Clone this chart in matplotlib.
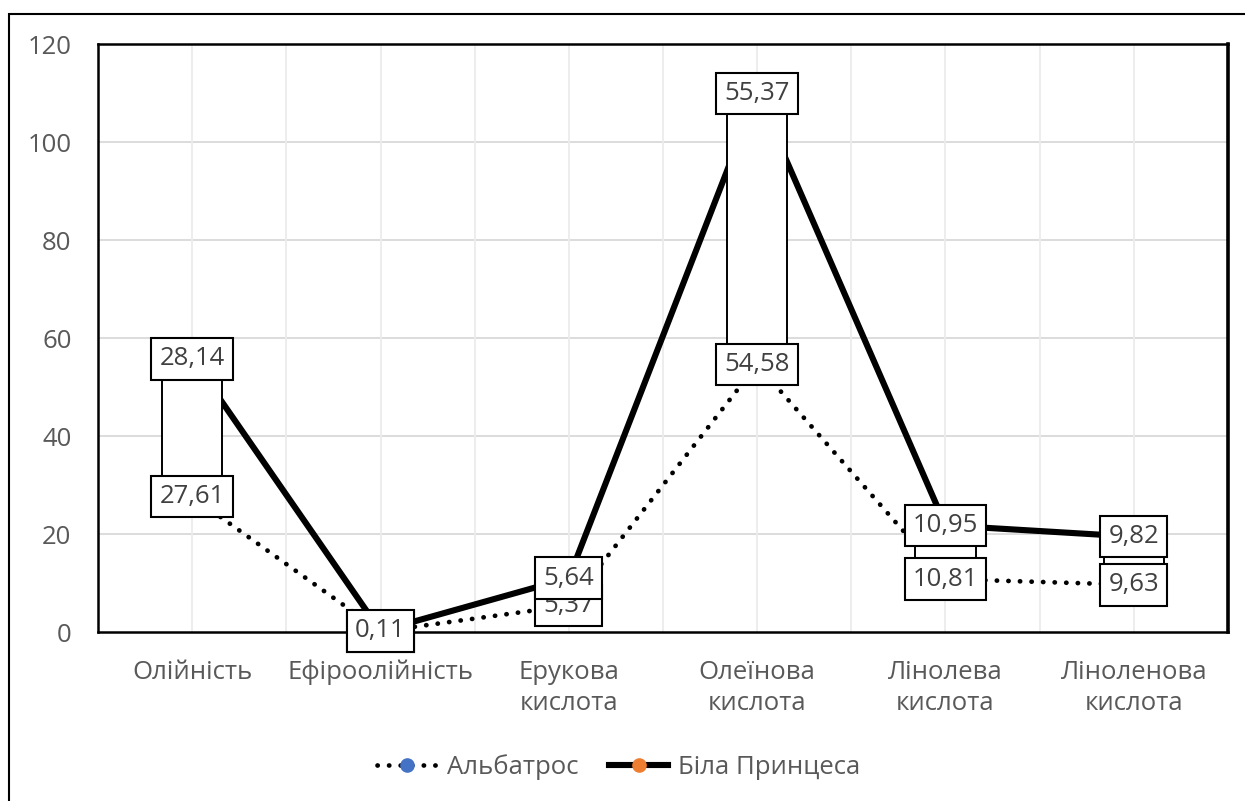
import matplotlib
matplotlib.use("Agg")
import matplotlib.pyplot as plt
from matplotlib.lines import Line2D
from matplotlib.patches import Rectangle
import numpy as np

plt.rcParams['font.family'] = ['Open Sans', 'DejaVu Sans']

# категорії та значення
categories = ["Олійність", "Ефіроолійність", "Ерукова\nкислота",
              "Олеїнова\nкислота", "Лінолева\nкислота", "Ліноленова\nкислота"]
albatros = [27.61, 0.11, 5.37, 54.58, 10.81, 9.63]
bila = [28.14, 0.11, 5.64, 55.37, 10.95, 9.82]
series_names = ["Альбатрос", "Біла Принцеса"]

FS = 18.5

def fmt(v):
    return f"{v:.2f}".replace(".", ",")

x = np.arange(len(categories))
lower = np.array(albatros)
upper = lower + np.array(bila)  # накопичена лінія

fig = plt.figure(figsize=(12.45, 8.01), dpi=100)
ax = fig.add_axes([98 / 1245, 1 - 632 / 801, 1130 / 1245, 588 / 801])

# рамка всієї діаграми
fig.patches.append(Rectangle((9 / 1245, -0.1), 1.2, 0.1 + (801 - 14) / 801,
                             transform=fig.transFigure, fill=False,
                             edgecolor="black", lw=1.5, zorder=0))

ax.set_xlim(-0.5, len(categories) - 0.5)
ax.set_ylim(0, 120)
ax.set_yticks(np.arange(0, 121, 20))
ax.set_xticks(x)
ax.set_xticklabels(categories, fontsize=FS, color="#595959", linespacing=1.35)
ax.tick_params(axis="y", labelsize=FS, labelcolor="#595959", length=0, pad=19)
ax.tick_params(axis="x", length=0, pad=20)

# сітка
for yv in np.arange(20, 120, 20):
    ax.axhline(yv, color="#d9d9d9", lw=1.3, zorder=0)
for xv in np.arange(-0.5, len(categories) - 0.4, 0.5)[1:-1]:
    ax.axvline(xv, color="#ececec", lw=1.3, zorder=0)

for sp in ax.spines.values():
    sp.set_color("black")
    sp.set_linewidth(1.8)
ax.spines["right"].set_linewidth(2.6)

# лінії
ax.plot(x, lower, color="black", lw=3.4, linestyle=(0, (0.05, 2.4)),
        dash_capstyle="round", zorder=2)
ax.plot(x, upper, color="black", lw=4.4, solid_capstyle="butt", zorder=2)

# стовпчики підвищення
ax.bar(x, upper - lower, bottom=lower, width=0.32, color="white",
       edgecolor="black", lw=1.4, zorder=3)

# підписи даних
box = dict(boxstyle="square,pad=0.32", facecolor="white", edgecolor="black", lw=1.5)
for xi, yi, v in zip(x, lower, albatros):
    ax.text(xi, yi, fmt(v), ha="center", va="center", fontsize=FS,
            color="#404040", bbox=box, zorder=4)
for xi, yi, v in zip(x, upper, bila):
    ax.text(xi, yi, fmt(v), ha="center", va="center", fontsize=FS,
            color="#404040", bbox=box, zorder=5)

handles = [
    Line2D([], [], color="black", lw=3.4, linestyle=(0, (0.05, 2.4)),
           dash_capstyle="round", marker="o", markersize=9.5,
           markerfacecolor="#4472C4", markeredgecolor="#4472C4"),
    Line2D([], [], color="black", lw=4.4, marker="o", markersize=9.5,
           markerfacecolor="#ED7D31", markeredgecolor="#ED7D31"),
]
fig.legend(handles, series_names, loc="center", bbox_to_anchor=(619 / 1245, 1 - 767 / 801),
           ncol=2, frameon=False, fontsize=FS, handlelength=2.3,
           columnspacing=1.2, handletextpad=0.4, labelcolor="#595959")

fig.savefig("out.png", dpi=100)
